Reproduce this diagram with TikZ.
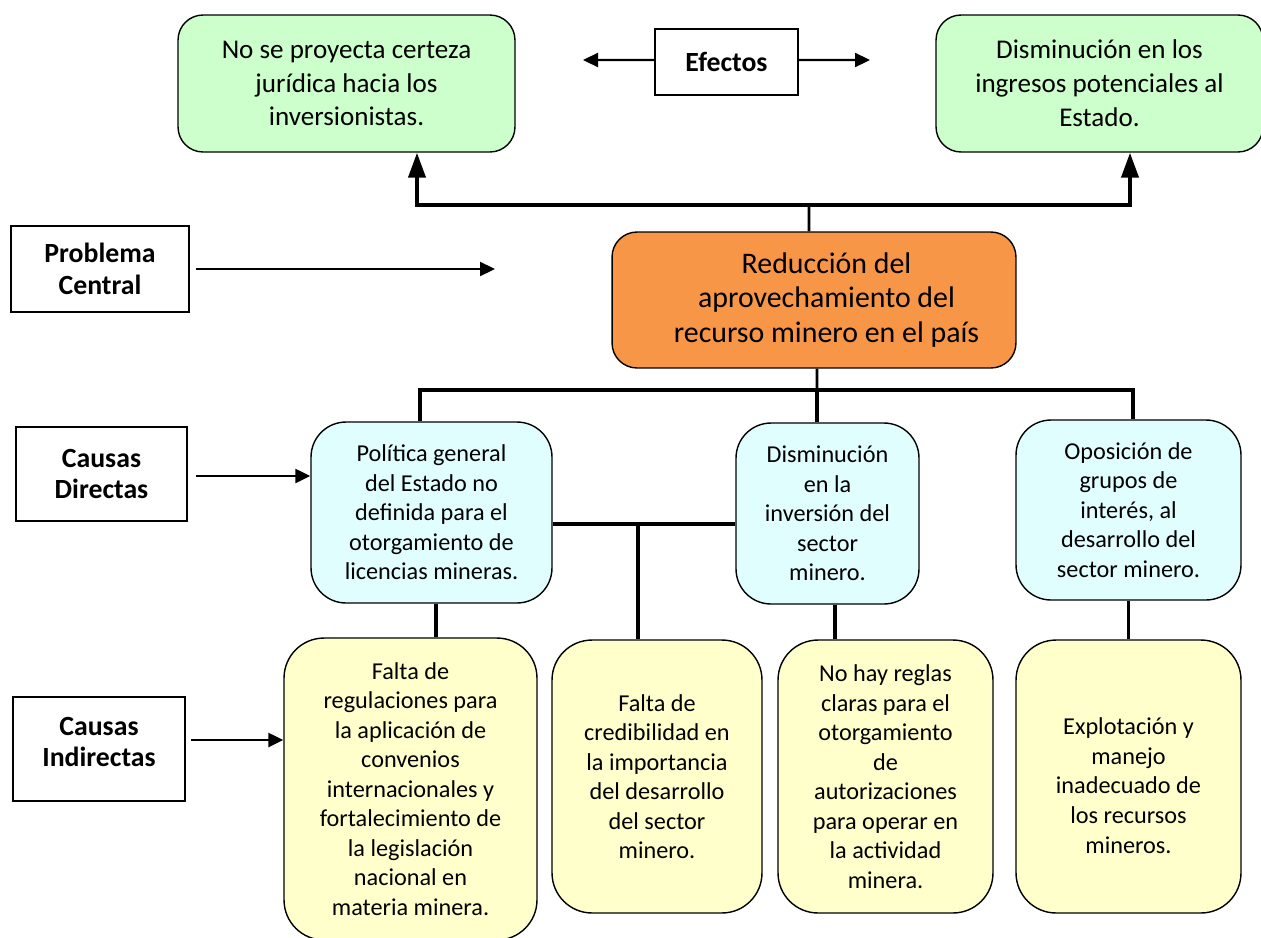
\documentclass[tikz,border=0pt]{standalone}
\usepackage{fontspec}
\setmainfont{Carlito}
\usepackage{xcolor}
\usepackage{tikz}
\usetikzlibrary{arrows.meta,positioning,calc}

\definecolor{efgreen}{HTML}{CCFFCC}
\definecolor{pcorange}{HTML}{F79646}
\definecolor{cdblue}{HTML}{E1FEFF}
\definecolor{ciyellow}{HTML}{FFFFCC}

\begin{document}
\begin{tikzpicture}[
  x=0.02cm, y=-0.02cm,
  label/.style={draw, line width=0.8pt, align=center, inner sep=0pt,
    font=\fontsize{15.8}{18}\selectfont\bfseries},
  efbox/.style={draw, line width=0.8pt, fill=efgreen, rounded corners=0.5cm,
    align=center, inner sep=0pt, font=\fontsize{15.4}{19.3}\selectfont},
  pcbox/.style={draw, line width=0.8pt, fill=pcorange, rounded corners=0.5cm,
    align=center, inner sep=0pt, font=\fontsize{17}{19.6}\selectfont},
  cdbox/.style={draw, line width=0.8pt, fill=cdblue, rounded corners=0.7cm,
    align=center, inner sep=0pt, font=\fontsize{13.8}{16.8}\selectfont},
  cibox/.style={draw, line width=0.8pt, fill=ciyellow, rounded corners=0.8cm,
    align=center, inner sep=0pt, font=\fontsize{13.8}{16.8}\selectfont},
  arr/.style={-{Triangle[length=3mm, width=2.8mm]}, line width=1.3pt},
  tarr/.style={-{Triangle[length=5mm, width=3.4mm]}, line width=2.3pt},
  tree/.style={line width=2.2pt}
]
\useasboundingbox (0,0) rectangle (1261,937);

% Effects
\node[efbox, minimum width=6.74cm, minimum height=2.74cm] (efizq) at (346.5,83.5)
  {No se proyecta certeza\\jurídica hacia los\\inversionistas.};
\node[efbox, minimum width=6.54cm, minimum height=2.74cm] (efder) at (1099.5,83.5)
  {Disminución en los\\ingresos potenciales al\\Estado.};
\node[label, minimum width=2.86cm, minimum height=1.32cm] (efectos) at (726.5,62) {Efectos};
\coordinate (efl) at (583,60);
\coordinate (efr) at (870,60);
\draw[arr] ([yshift=0.04cm]efectos.west) -- (efl);
\draw[arr] ([yshift=0.04cm]efectos.east) -- (efr);

% Central problem
\node[pcbox, minimum width=8.08cm, minimum height=2.72cm] (pc) at (814,300)
  {\hspace*{0.5cm}Reducción del\\\hspace*{0.5cm}aprovechamiento del\\\hspace*{0.5cm}recurso minero en el país};
\node[label, minimum width=3.56cm, minimum height=1.72cm] (probl) at (100,269)
  {Problema\\Central};
\coordinate (pcend) at (495,269);
\draw[arr] ([xshift=0.12cm]probl.east) -- (pcend);

\coordinate (efjoin) at (809,205);
\draw[line width=1.6pt] ([xshift=-0.1cm]pc.north) -- (efjoin);
\draw[tarr] (efjoin) -| ([xshift=1.41cm]efizq.south);
\draw[tarr] (efjoin) -| ([xshift=0.61cm]efder.south);

% Direct causes
\node[cdbox, minimum width=4.82cm, minimum height=3.62cm] (cd1) at (431.5,512.5)
  {Política general\\del Estado no\\definida para el\\otorgamiento de\\licencias mineras.};
\node[cdbox, minimum width=3.66cm, minimum height=3.62cm] (cd2) at (827.5,513.5)
  {Disminución\\en la\\inversión del\\sector\\minero.};
\node[cdbox, minimum width=4.5cm, minimum height=3.6cm] (cd3) at (1128.5,510)
  {Oposición de\\grupos de\\interés, al\\desarrollo del\\sector minero.};
\node[label, minimum width=3.42cm, minimum height=1.88cm] (cdir) at (101.5,474)
  {Causas\\Directas};
\draw[arr] ([xshift=0.16cm, yshift=-0.04cm]cdir.east) -- ([yshift=-0.04cm]cdir.east -| cd1.west);

\coordinate (cdjoin) at (817,390);
\draw[line width=1.6pt] ([xshift=0.06cm]pc.south) -- (cdjoin);
\draw[tree] (cdjoin) -| ([xshift=-0.23cm]cd1.north);
\draw[tree] (cdjoin) -| ([xshift=0.09cm]cd3.north);
\draw[tree] (cdjoin) -- (cdjoin |- cd2.north);

% Indirect causes
\node[cibox, minimum width=5.06cm, minimum height=6.04cm] (ci1) at (410.5,789)
  {Falta de\\regulaciones para\\la aplicación de\\convenios\\internacionales y\\fortalecimiento de\\la legislación\\nacional en\\materia minera.};
\node[cibox, minimum width=4.2cm, minimum height=5.46cm] (ci2) at (657,776.5)
  {Falta de\\credibilidad en\\la importancia\\del desarrollo\\del sector\\minero.};
\node[cibox, minimum width=4.3cm, minimum height=5.46cm] (ci3) at (885.5,776.5)
  {No hay reglas\\claras para el\\otorgamiento\\de\\autorizaciones\\para operar en\\la actividad\\minera.};
\node[cibox, minimum width=4.5cm, minimum height=5.46cm] (ci4) at (1128.5,776.5)
  {\rule{0pt}{20pt}Explotación y\\manejo\\inadecuado de\\los recursos\\mineros.};
\node[label, minimum width=3.44cm, minimum height=2.08cm] (cind) at (99,749)
  {Causas\\Indirectas\\[-10pt]};
\draw[arr] ([xshift=0.1cm, yshift=0.18cm]cind.east) -- ([yshift=0.18cm]cind.east -| ci1.west);

\coordinate (cijoin) at (638,524);
\draw[tree] (cd1.east |- cijoin) -- (cd2.west |- cijoin);
\draw[tree] (cijoin) -- (cijoin |- ci2.north);
\draw[tree] ([xshift=0.09cm]cd1.south) -- ([xshift=0.09cm]cd1.south |- ci1.north);
\draw[tree] ([xshift=0.15cm]cd2.south) -- ([xshift=0.15cm]cd2.south |- ci3.north);
\draw[tree] (cd3.south) -- (cd3.south |- ci4.north);

\end{tikzpicture}
\end{document}
